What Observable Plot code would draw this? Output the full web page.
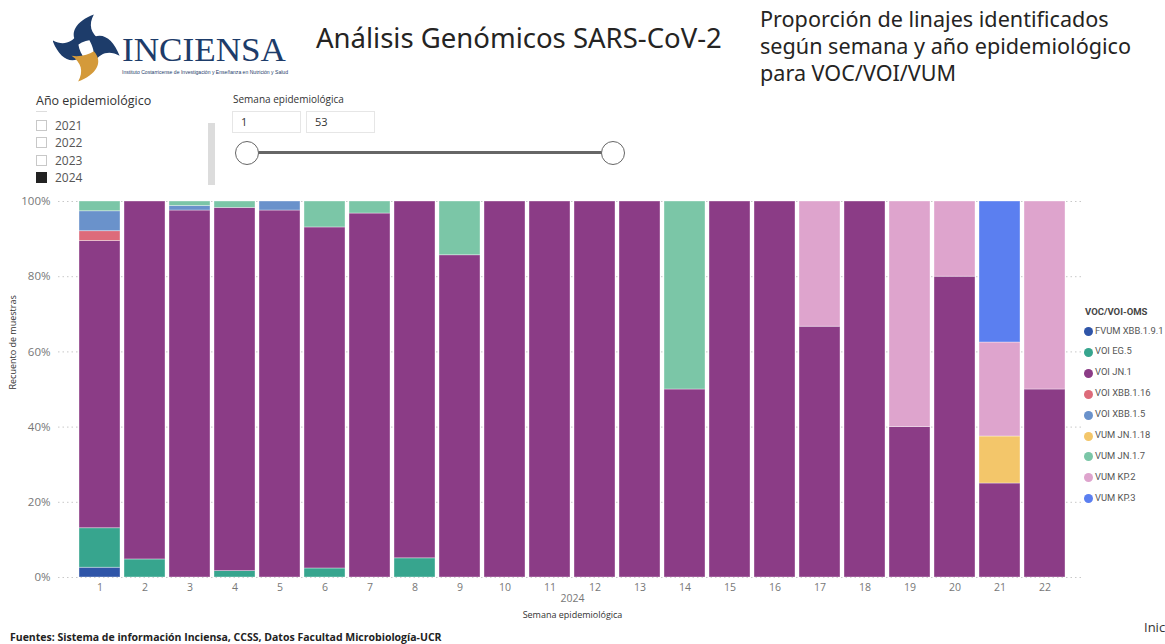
<!DOCTYPE html>
<html>
<head>
<meta charset="utf-8">
<script src="https://cdn.jsdelivr.net/npm/d3@7"></script>
<script src="https://cdn.jsdelivr.net/npm/@observablehq/plot@0.6"></script>
<style>
  html, body { margin: 0; padding: 0; background: #fff; }
  body { width: 1165px; height: 644px; position: relative; overflow: hidden; font-family: "Open Sans", "Noto Sans", sans-serif; color: #252423; }
  .abs { position: absolute; white-space: nowrap; }
  .box { position: absolute; border: 1px solid #e6e6e6; height: 22px; box-sizing: border-box; font-size: 11px; line-height: 20px; padding-left: 8px; color: #333; }
  .cb { position: absolute; width: 11px; height: 11px; border: 1px solid #c8c8c8; box-sizing: border-box; }
  .yr { position: absolute; font-size: 12px; color: #555; }
  .lg { position: absolute; font-size: 9.4px; color: #555; white-space: nowrap; font-family: Roboto, "Open Sans", sans-serif; }
  .dot { position: absolute; width: 9px; height: 9px; border-radius: 50%; }
</style>
</head>
<body>
<script>
// ---------- data ----------
const weeks = [1,2,3,4,5,6,7,8,9,10,11,12,13,14,15,16,17,18,19,20,21,22];
const lineages = ["FVUM XBB.1.9.1","VOI EG.5","VOI JN.1","VOI XBB.1.16","VOI XBB.1.5","VUM JN.1.18","VUM JN.1.7","VUM KP.2","VUM KP.3"];
const colors = ["#2F55A8","#37A58E","#8B3C86","#DD6B7A","#6A92CB","#F3C66A","#7BC6A7","#DEA4CD","#5B7FF0"];
const fvumXBB191 = [2.6,0,0,0,0,0,0,0,0,0,0,0,0,0,0,0,0,0,0,0,0,0];
const voiEG5     = [10.5,4.8,0,1.7,0,2.4,0,5.1,0,0,0,0,0,0,0,0,0,0,0,0,0,0];
const voiJN1     = [76.4,95.2,97.6,96.6,97.6,90.7,96.8,94.9,85.7,100,100,100,100,50,100,100,66.7,100,40,80,25,50];
const voiXBB116  = [2.6,0,0,0,0,0,0,0,0,0,0,0,0,0,0,0,0,0,0,0,0,0];
const voiXBB15   = [5.3,0,1.2,0,2.4,0,0,0,0,0,0,0,0,0,0,0,0,0,0,0,0,0];
const vumJN118   = [0,0,0,0,0,0,0,0,0,0,0,0,0,0,0,0,0,0,0,0,12.5,0];
const vumJN17    = [2.6,0,1.2,1.7,0,6.9,3.2,0,14.3,0,0,0,0,50,0,0,0,0,0,0,0,0];
const vumKP2     = [0,0,0,0,0,0,0,0,0,0,0,0,0,0,0,0,33.3,0,60,20,25,50];
const vumKP3     = [0,0,0,0,0,0,0,0,0,0,0,0,0,0,0,0,0,0,0,0,37.5,0];
const yTicks = [0,20,40,60,80,100];
const years = ["2021","2022","2023","2024"];
const selectedYear = "2024";
const weekRange = [1, 53];
const xYearLabel = "2024";

const series = [fvumXBB191, voiEG5, voiJN1, voiXBB116, voiXBB15, vumJN118, vumJN17, vumKP2, vumKP3];
const table = [];
lineages.forEach((l, i) => weeks.forEach((w, j) => {
  if (series[i][j] > 0) table.push({week: w, lineage: l, value: series[i][j]});
}));
</script>

<!-- Logo -->
<svg class="abs" style="left:53px;top:12px" width="245" height="72">
  <g transform="translate(33,36) scale(1.12)">
    <g fill="#1D3C6A">
      <path d="M -7,-3 C -16,-13 -9,-24 7,-30 C 2,-21 4,-13 13,-7 C 4,-8 -2,-6 -7,-3 Z"/>
      <path d="M -7,-3 C -16,-13 -9,-24 7,-30 C 2,-21 4,-13 13,-7 C 4,-8 -2,-6 -7,-3 Z" transform="rotate(90)"/>
      <path d="M -7,-3 C -16,-13 -9,-24 7,-30 C 2,-21 4,-13 13,-7 C 4,-8 -2,-6 -7,-3 Z" transform="rotate(270)"/>
    </g>
    <path fill="#D49A3A" d="M -7,-3 C -16,-13 -9,-24 7,-30 C 2,-21 4,-13 13,-7 C 4,-8 -2,-6 -7,-3 Z" transform="rotate(180)"/>
  </g>
  <text x="69" y="49" font-family="Liberation Serif, DejaVu Serif, serif" font-size="34" fill="#1D3C6A" textLength="164" lengthAdjust="spacingAndGlyphs">INCIENSA</text>
  <text x="69" y="61.5" font-family="Liberation Sans, sans-serif" font-size="5" fill="#1D3C6A" textLength="166" lengthAdjust="spacingAndGlyphs">Instituto Costarricense de Investigación y Enseñanza en Nutrición y Salud</text>
</svg>

<div class="abs" style="left:316px;top:19px;font-size:27.5px;line-height:38px;font-family:'Noto Sans','Open Sans',sans-serif;">Análisis Genómicos SARS-CoV-2</div>
<div class="abs" style="left:760px;top:5px;font-size:21.6px;line-height:27px;font-family:'Noto Sans','Open Sans',sans-serif;">Proporción de linajes identificados<br>según semana y año epidemiológico<br>para VOC/VOI/VUM</div>

<!-- Year slicer -->
<div class="abs" style="left:36px;top:92px;font-size:12.5px;color:#333;">Año epidemiológico</div>
<div class="abs" style="left:36px;top:111px;width:11px;height:1px;background:#ddd;"></div>
<div id="years"></div>
<div class="abs" style="left:208px;top:123px;width:7px;height:62px;background:#dcdcdc;"></div>

<!-- Week slicer -->
<div class="abs" style="left:233px;top:92px;font-size:10px;color:#333;">Semana epidemiológica</div>
<div id="wk"></div>
<div class="abs" style="left:247px;top:151px;width:366px;height:3px;background:#666;"></div>
<div class="abs" style="left:235px;top:141px;width:22px;height:22px;border:1.5px solid #666;border-radius:50%;background:#fff;"></div>
<div class="abs" style="left:601px;top:141px;width:22px;height:22px;border:1.5px solid #666;border-radius:50%;background:#fff;"></div>

<div id="chart" class="abs" style="left:0;top:190px;"></div>
<div id="legend"></div>

<div class="abs" style="left:10px;top:630px;font-size:10.5px;font-weight:bold;color:#222;">Fuentes: Sistema de información Inciensa, CCSS, Datos Facultad Microbiología-UCR</div>
<div class="abs" style="left:1144px;top:618px;font-size:13px;color:#333;">Inic</div>

<script>
// slicers
const yrDiv = document.getElementById("years");
years.forEach((y, i) => {
  const top = 120 + i * 17.4;
  const cb = document.createElement("div");
  cb.className = "cb";
  cb.style.left = "36px"; cb.style.top = top + "px";
  if (y === selectedYear) { cb.style.background = "#222"; cb.style.borderColor = "#222"; }
  yrDiv.appendChild(cb);
  const t = document.createElement("div");
  t.className = "yr"; t.style.left = "55px"; t.style.top = (top - 3) + "px";
  t.textContent = y;
  yrDiv.appendChild(t);
});
const wk = document.getElementById("wk");
weekRange.forEach((v, i) => {
  const b = document.createElement("div");
  b.className = "box";
  b.style.left = (232 + i * 74) + "px"; b.style.top = "111px"; b.style.width = "69px";
  b.textContent = v;
  wk.appendChild(b);
});

// legend
const lg = document.getElementById("legend");
const lt = document.createElement("div");
lt.className = "lg"; lt.style.left = "1085px"; lt.style.top = "306px";
lt.style.fontWeight = "bold"; lt.style.fontSize = "9.5px"; lt.style.color = "#444";
lt.textContent = "VOC/VOI-OMS";
lg.appendChild(lt);
lineages.forEach((l, i) => {
  const top = 325 + i * 20.9;
  const d = document.createElement("div");
  d.className = "dot"; d.style.left = "1084px"; d.style.top = (top + 2) + "px"; d.style.background = colors[i];
  lg.appendChild(d);
  const t = document.createElement("div");
  t.className = "lg"; t.style.left = "1095px"; t.style.top = (top - 0.5) + "px";
  t.textContent = l;
  lg.appendChild(t);
});

// chart
const plot = Plot.plot({
  width: 1090,
  height: 440,
  marginLeft: 76,
  marginRight: 22,
  marginTop: 11,
  marginBottom: 53,
  style: {fontFamily: "'Open Sans', sans-serif", background: "transparent"},
  x: {type: "band", domain: weeks, paddingInner: 0.08, paddingOuter: 0.035, label: null},
  y: {domain: [0, 100], label: null},
  color: {domain: lineages, range: colors},
  marks: [
    Plot.ruleY(yTicks, {stroke: "#c8c8c8", strokeDasharray: "1.5,3", insetLeft: -18, insetRight: -14}),
    Plot.barY(table, {x: "week", y: "value", fill: "lineage", order: lineages, stroke: "#fff", strokeOpacity: 0.45, strokeWidth: 0.8}),
    Plot.axisY({ticks: yTicks, tickFormat: d => d + "%", tickSize: 0, tickPadding: 26, fontSize: 11.5, color: "#777", label: null}),
    Plot.axisX({tickSize: 0, tickPadding: 6, fontSize: 10.5, color: "#777", label: null}),
    Plot.text([xYearLabel], {frameAnchor: "bottom", dy: 24, fontSize: 10.5, fill: "#777"}),
    Plot.text(["Semana epidemiológica"], {frameAnchor: "bottom", dy: 40, fontSize: 9, fill: "#333"}),
    Plot.text(["Recuento de muestras"], {frameAnchor: "left", dx: -63, rotate: -90, fontSize: 9, fill: "#333"})
  ]
});
document.getElementById("chart").appendChild(plot);
</script>
</body>
</html>
